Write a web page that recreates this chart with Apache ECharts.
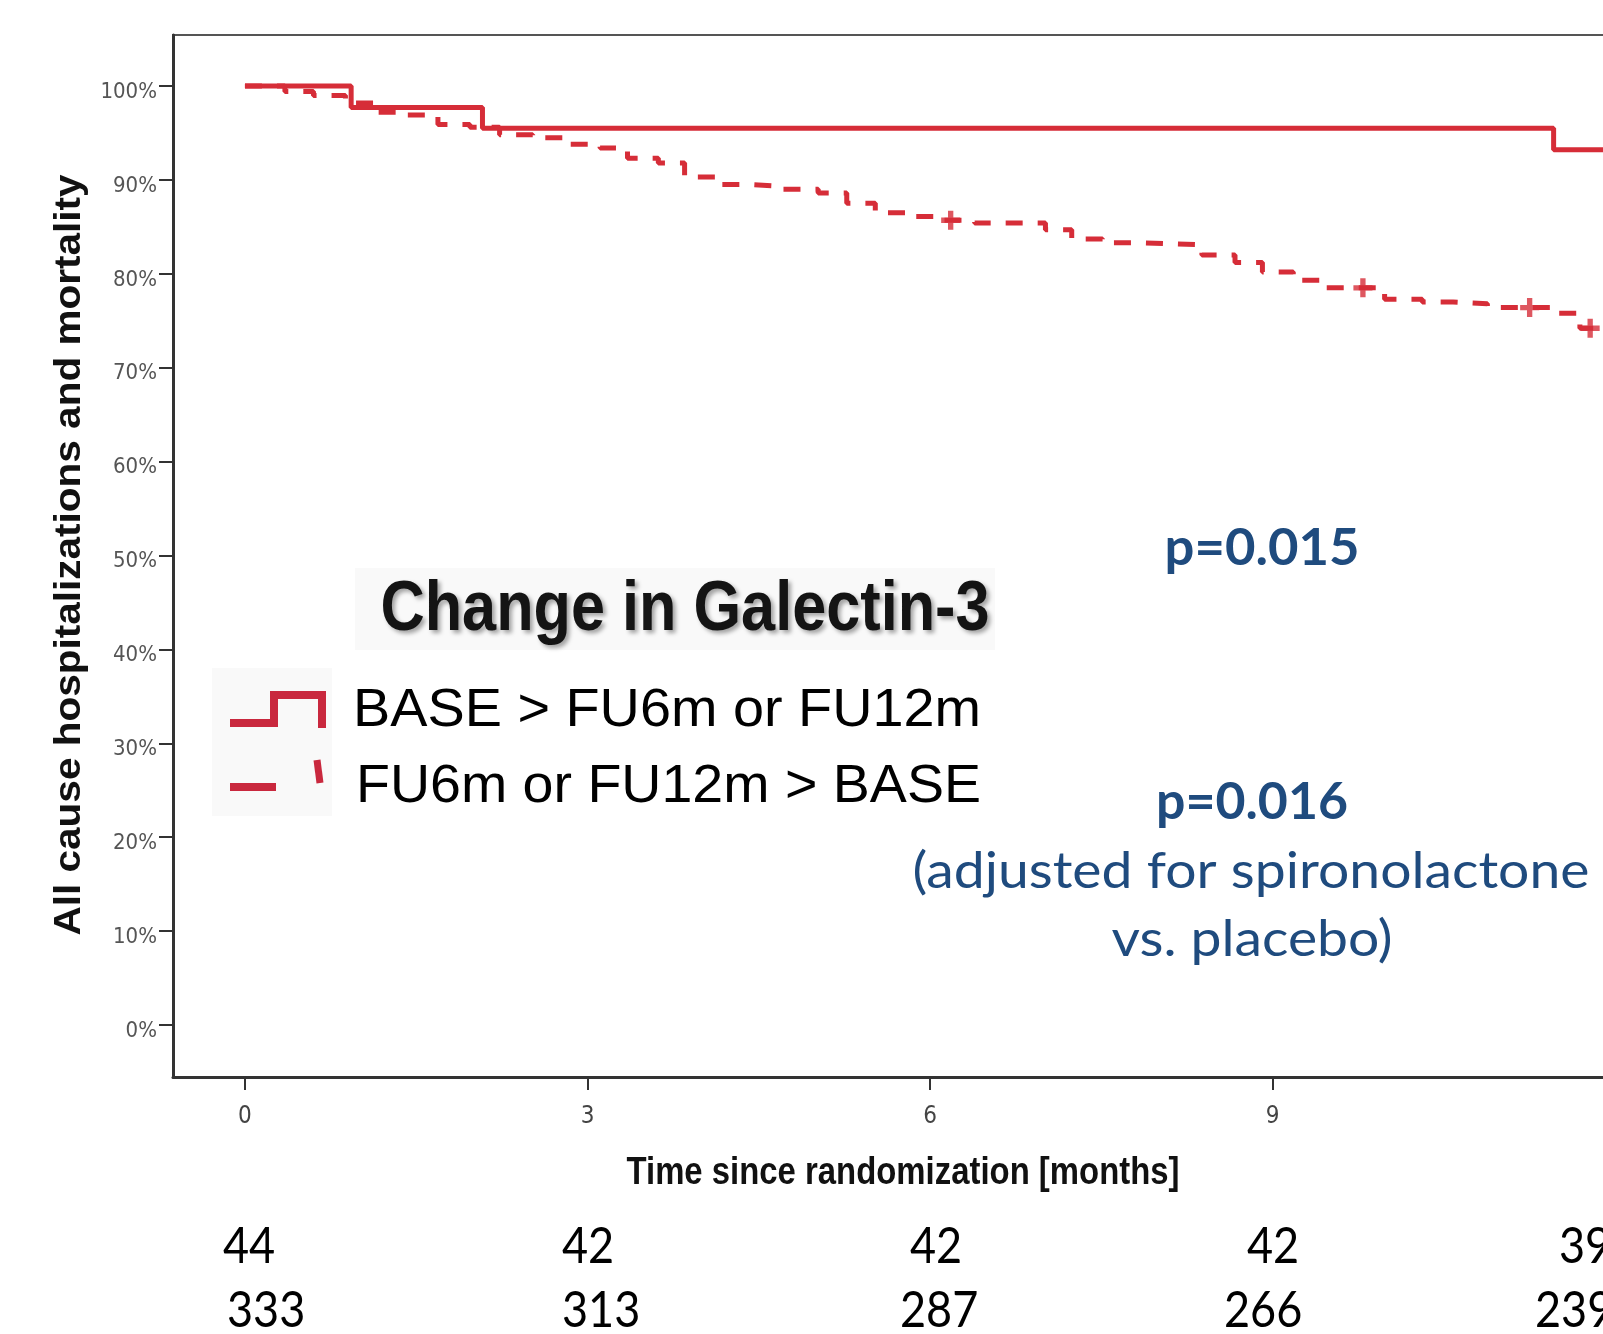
<!DOCTYPE html>
<html><head><meta charset="utf-8">
<script src="https://cdn.jsdelivr.net/npm/echarts@6/dist/echarts.min.js"></script>
<style>html,body{margin:0;padding:0;background:#fff}#c{width:1603px;height:1334px}</style>
</head><body><div id="c"></div>
<script>
// ---- data ----
const xTickValues = [0, 3, 6, 9];
const yTickValues = [0, 10, 20, 30, 40, 50, 60, 70, 80, 90, 100];
const seriesNames = ['BASE > FU6m or FU12m', 'FU6m or FU12m > BASE'];
const solidTimes = [0, 0.93, 2.08, 11.46, 12];
const solidSurv  = [100, 97.7, 95.5, 93.2, 93.2];
const dashedTimes = [0, 0.35, 0.60, 0.88, 1.16, 1.42, 1.69, 1.97, 2.23, 2.52, 2.80, 3.11, 3.35, 3.62, 3.85, 4.12, 4.42, 4.71, 5.02, 5.27, 5.52, 5.81, 6.09, 6.39, 7.01, 7.24, 7.51, 7.84, 8.38, 8.67, 8.91, 9.18, 9.43, 9.98, 10.31, 10.58, 10.88, 11.44, 11.69, 12];
const dashedSurv  = [100, 99.4, 99.0, 98.2, 97.2, 96.9, 95.9, 95.6, 94.8, 94.5, 93.8, 93.4, 92.3, 91.8, 90.3, 89.5, 89.3, 89.0, 88.6, 87.5, 86.5, 86.1, 85.7, 85.4, 84.7, 83.7, 83.3, 83.1, 82.0, 81.2, 80.2, 79.3, 78.5, 77.3, 77.0, 76.8, 76.4, 75.8, 74.2, 74.2];
const censorTimes = [6.18, 9.79, 11.25, 11.78];
const censorSurv  = [85.7, 78.5, 76.4, 74.2];
const atRiskDecrease = ['44', '42', '42', '42', '39'];
const atRiskIncrease = ['333', '313', '287', '266', '239'];
const legendTitle = 'Change in Galectin-3';
const xTitle = 'Time since randomization [months]';
const yTitle = 'All cause hospitalizations and mortality';
const pTexts = ['p=0.015', 'p=0.016', '(adjusted for spironolactone', 'vs. placebo)'];

// ---- layout / style ----
const RED = '#d62d38';
const ICON = '#c9283e';
const BLUE = '#1f4b7e';
const zip = (a, b) => a.map((v, i) => [v, b[i]]);
const mctx = document.createElement('canvas').getContext('2d');
function fitScale(text, font, w) { mctx.font = font; return w / mctx.measureText(text).width; }
function T(text, x, y, font, fill, align, targetW, extra) {
  const s = targetW ? fitScale(text, font, targetW) : 1;
  return Object.assign({
    type: 'text', x: x, y: y, scaleX: s, z: 10,
    style: Object.assign({ text: text, font: font, fill: fill,
      textAlign: align, align: align, textVerticalAlign: 'middle', verticalAlign: 'middle' }, (extra && extra.style) || {})
  }, extra && extra.rotation !== undefined ? { rotation: extra.rotation } : {});
}

const chart = echarts.init(document.getElementById('c'), null, { renderer: 'canvas' });
const axisFont = "'Liberation Sans Narrow','DejaVu Sans Condensed','Liberation Sans',sans-serif";
const plus = 'path://M3.6,0H6.4V3.6H10V6.4H6.4V10H3.6V6.4H0V3.6H3.6Z';

const option = {
  animation: false,
  backgroundColor: '#fff',
  grid: { left: 173, right: -10, top: 35, bottom: 257, show: true, borderColor: '#555', borderWidth: 2,
          containLabel: false, outerBoundsMode: 'none' },
  xAxis: {
    type: 'value', min: -0.63, max: 11.98,
    axisLine: { show: true, onZero: false, lineStyle: { color: '#333', width: 3 } },
    axisTick: { show: true, customValues: xTickValues, length: 13, lineStyle: { color: '#333', width: 2 } },
    axisLabel: { customValues: xTickValues, margin: 28, fontSize: 24, color: '#444', fontFamily: axisFont },
    splitLine: { show: false }
  },
  yAxis: {
    type: 'value', min: -5.54, max: 105.43,
    axisLine: { show: true, onZero: false, lineStyle: { color: '#333', width: 3 } },
    axisTick: { show: true, customValues: yTickValues, length: 14, lineStyle: { color: '#333', width: 2 } },
    axisLabel: { customValues: yTickValues, formatter: '{value}%', margin: 16, fontSize: 22, color: '#555',
                 fontFamily: axisFont, verticalAlign: 'top', lineHeight: 12 },
    splitLine: { show: false }
  },
  series: [
    { name: seriesNames[1], type: 'line', step: 'end', data: zip(dashedTimes, dashedSurv),
      symbol: 'none', z: 2, lineStyle: { color: RED, width: 5, type: [17, 15], cap: 'butt' } },
    { name: seriesNames[0], type: 'line', step: 'end', data: zip(solidTimes, solidSurv),
      symbol: 'none', z: 3, lineStyle: { color: RED, width: 5 } },
    { name: 'censored', type: 'scatter', data: zip(censorTimes, censorSurv),
      symbol: plus, symbolSize: 19, z: 4, itemStyle: { color: RED } }
  ]
};
chart.setOption(option);

// texts and legend
const bold = (px, fam) => 'bold ' + px + 'px ' + (fam || "'Liberation Sans',Arial,sans-serif");
const reg = (px, fam) => px + 'px ' + (fam || "'Liberation Sans',Arial,sans-serif");
const calibriLike = "Lato,'Open Sans',sans-serif";

const g = [];
// faint legend backgrounds
g.push({ type: 'rect', shape: { x: 355, y: 568, width: 640, height: 82 }, style: { fill: '#f9f9f9' }, z: 1 });
g.push({ type: 'rect', shape: { x: 212, y: 668, width: 120, height: 148 }, style: { fill: '#f9f9f9' }, z: 1 });
g.push({ type: 'rect', shape: { x: 332, y: 660, width: 660, height: 150 }, style: { fill: '#ffffff' }, z: 2 });
// legend title
g.push(T(legendTitle, 685, 611, bold(70), '#141414', 'center', 609,
  { style: { textShadowColor: 'rgba(0,0,0,0.35)', textShadowBlur: 4, textShadowOffsetX: 3, textShadowOffsetY: 3 } }));
// legend items
g.push(T(seriesNames[0], 353, 711, reg(54), '#000', 'left', 628));
g.push(T(seriesNames[1], 356, 787, reg(54), '#000', 'left', 625));
g.push({ type: 'polyline', z: 10, shape: { points: [[230, 723], [274, 723], [274, 695], [322, 695], [322, 728]] },
  style: { stroke: ICON, lineWidth: 8, fill: null, lineJoin: 'miter' } });
g.push({ type: 'polyline', z: 10, shape: { points: [[230, 787], [276, 787]] }, style: { stroke: ICON, lineWidth: 8, fill: null } });
g.push({ type: 'polyline', z: 10, shape: { points: [[317, 760], [320, 783]] }, style: { stroke: ICON, lineWidth: 7, fill: null } });
// p values
g.push(T(pTexts[0], 1262, 548, bold(52, calibriLike), BLUE, 'center', 195));
g.push(T(pTexts[1], 1252, 802, bold(52, calibriLike), BLUE, 'center', 192));
g.push(T(pTexts[2], 1251, 872, reg(50, calibriLike), BLUE, 'center', 677));
g.push(T(pTexts[3], 1252, 940, reg(50, calibriLike), BLUE, 'center', 281));
// axis titles
g.push(T(xTitle, 903, 1174, bold(38), '#111', 'center', 553));
g.push(T(yTitle, 70, 555, bold(36), '#111', 'center', 761, { rotation: Math.PI / 2 }));
// numbers at risk
const row1X = [223, 562, 910, 1247, 1559];
const row2X = [227, 562, 900, 1224, 1535];
atRiskDecrease.forEach((t, i) => g.push(Object.assign(T(t, row1X[i], 1247, reg(50, calibriLike), '#000', 'left'), { scaleX: 0.9 })));
atRiskIncrease.forEach((t, i) => g.push(Object.assign(T(t, row2X[i], 1311, reg(50, calibriLike), '#000', 'left'), { scaleX: 0.9 })));

chart.setOption({ graphic: { elements: g } });
</script></body></html>
